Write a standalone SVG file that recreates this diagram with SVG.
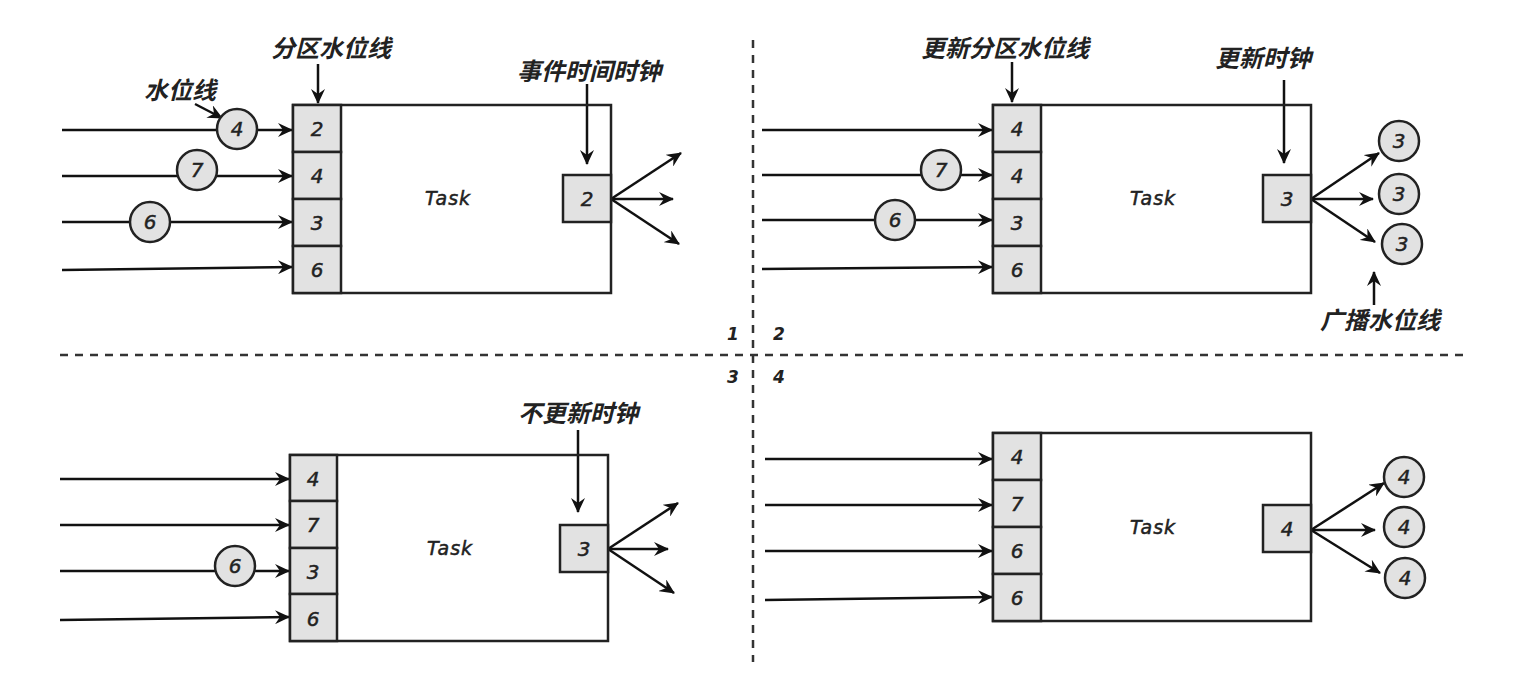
<svg xmlns="http://www.w3.org/2000/svg" width="1534" height="682" viewBox="0 0 1534 682">
<defs>
<marker id="ah" markerWidth="16" markerHeight="14" refX="14" refY="7" orient="auto" markerUnits="userSpaceOnUse">
<path d="M0,0 L15,7 L0,14 L5,7 z" fill="#111"/>
</marker>
<style>
.box{fill:none;stroke:#222;stroke-width:2.5}
.cell{fill:#e2e2e2;stroke:#222;stroke-width:2.5}
.ln{stroke:#111;stroke-width:2.5;fill:none;marker-end:url(#ah)}
.dash{stroke:#333;stroke-width:2.5;stroke-dasharray:8,7;fill:none}
.num{font-family:"DejaVu Sans",sans-serif;font-style:italic;font-size:20px;fill:#222;stroke:#222;stroke-width:0.5;text-anchor:middle;dominant-baseline:central}
.task{font-family:"DejaVu Sans",sans-serif;font-style:italic;font-size:19px;fill:#222;stroke:#222;stroke-width:0.5;letter-spacing:1px;text-anchor:middle;dominant-baseline:central}
.lbl{font-family:"Noto Sans CJK SC",sans-serif;font-style:italic;font-weight:bold;font-size:24px;fill:#222;text-anchor:middle;dominant-baseline:central}
.q{font-family:"DejaVu Sans",sans-serif;font-style:italic;font-weight:bold;font-size:17px;fill:#222;text-anchor:middle;dominant-baseline:central}
.circ{fill:#e2e2e2;stroke:#222;stroke-width:2.5}
</style>
</defs>

<g id="dividers">
<line class="dash" x1="753" y1="40" x2="753" y2="662"/>
<line class="dash" x1="60" y1="355" x2="1466" y2="355"/>
<text class="q" x="733" y="334">1</text>
<text class="q" x="779" y="334">2</text>
<text class="q" x="733" y="377">3</text>
<text class="q" x="779" y="377">4</text>
</g>

<g id="connectors">
<!-- panel 1 -->
<line class="ln" x1="62" y1="130" x2="292" y2="130"/>
<line class="ln" x1="62" y1="176" x2="292" y2="176"/>
<line class="ln" x1="62" y1="222" x2="292" y2="222"/>
<line class="ln" x1="62" y1="270" x2="292" y2="267"/>
<line class="ln" x1="195" y1="104" x2="222" y2="118"/>
<line class="ln" x1="318" y1="64" x2="318" y2="103"/>
<line class="ln" x1="587" y1="84" x2="587" y2="164"/>
<line class="ln" x1="611" y1="199" x2="681" y2="153"/>
<line class="ln" x1="611" y1="199" x2="673" y2="199"/>
<line class="ln" x1="611" y1="199" x2="679" y2="244"/>
<!-- panel 2 -->
<line class="ln" x1="762" y1="130" x2="992" y2="130"/>
<line class="ln" x1="762" y1="175" x2="992" y2="175"/>
<line class="ln" x1="762" y1="220" x2="992" y2="220"/>
<line class="ln" x1="762" y1="269" x2="992" y2="267"/>
<line class="ln" x1="1012" y1="62" x2="1012" y2="102"/>
<line class="ln" x1="1284" y1="80" x2="1284" y2="163"/>
<line class="ln" x1="1311" y1="199" x2="1379" y2="153"/>
<line class="ln" x1="1311" y1="199" x2="1373" y2="199"/>
<line class="ln" x1="1311" y1="199" x2="1375" y2="242"/>
<line class="ln" x1="1374" y1="305" x2="1374" y2="272"/>
<!-- panel 3 -->
<line class="ln" x1="60" y1="479" x2="289" y2="479"/>
<line class="ln" x1="60" y1="525" x2="289" y2="525"/>
<line class="ln" x1="60" y1="571" x2="289" y2="571"/>
<line class="ln" x1="60" y1="620" x2="289" y2="617"/>
<line class="ln" x1="578" y1="430" x2="578" y2="512"/>
<line class="ln" x1="608" y1="549" x2="678" y2="503"/>
<line class="ln" x1="608" y1="549" x2="668" y2="549"/>
<line class="ln" x1="608" y1="549" x2="674" y2="593"/>
<!-- panel 4 -->
<line class="ln" x1="765" y1="459" x2="992" y2="459"/>
<line class="ln" x1="765" y1="505" x2="992" y2="505"/>
<line class="ln" x1="765" y1="551" x2="992" y2="551"/>
<line class="ln" x1="765" y1="600" x2="992" y2="597"/>
<line class="ln" x1="1311" y1="530" x2="1384" y2="483"/>
<line class="ln" x1="1311" y1="530" x2="1375" y2="530"/>
<line class="ln" x1="1311" y1="530" x2="1380" y2="573"/>
</g>

<g id="panel1">
<rect class="box" x="293" y="105" width="318" height="188"/>
<rect class="cell" x="293" y="105" width="48" height="47"/>
<rect class="cell" x="293" y="152" width="48" height="47"/>
<rect class="cell" x="293" y="199" width="48" height="47"/>
<rect class="cell" x="293" y="246" width="48" height="47"/>
<text class="num" x="317" y="129">2</text>
<text class="num" x="317" y="176">4</text>
<text class="num" x="317" y="223">3</text>
<text class="num" x="317" y="270">6</text>
<text class="task" x="448" y="198">Task</text>
<rect class="cell" x="563" y="175" width="48" height="47"/>
<text class="num" x="587" y="199">2</text>
<circle class="circ" cx="237" cy="129" r="20"/>
<text class="num" x="237" y="129">4</text>
<circle class="circ" cx="197" cy="170" r="20"/>
<text class="num" x="197" y="170">7</text>
<circle class="circ" cx="150" cy="222" r="20"/>
<text class="num" x="150" y="222">6</text>
<text class="lbl" x="180" y="88">水位线</text>
<text class="lbl" x="331" y="46">分区水位线</text>
<text class="lbl" x="589" y="69">事件时间时钟</text>
</g>

<g id="panel2">
<rect class="box" x="993" y="105" width="318" height="188"/>
<rect class="cell" x="993" y="105" width="48" height="47"/>
<rect class="cell" x="993" y="152" width="48" height="47"/>
<rect class="cell" x="993" y="199" width="48" height="47"/>
<rect class="cell" x="993" y="246" width="48" height="47"/>
<text class="num" x="1017" y="129">4</text>
<text class="num" x="1017" y="176">4</text>
<text class="num" x="1017" y="223">3</text>
<text class="num" x="1017" y="270">6</text>
<text class="task" x="1153" y="198">Task</text>
<rect class="cell" x="1263" y="175" width="48" height="47"/>
<text class="num" x="1287" y="199">3</text>
<circle class="circ" cx="941" cy="170" r="20"/>
<text class="num" x="941" y="170">7</text>
<circle class="circ" cx="895" cy="220" r="20"/>
<text class="num" x="895" y="220">6</text>
<circle class="circ" cx="1399" cy="141" r="20"/>
<text class="num" x="1399" y="141">3</text>
<circle class="circ" cx="1399" cy="194" r="20"/>
<text class="num" x="1399" y="194">3</text>
<circle class="circ" cx="1402" cy="244" r="20"/>
<text class="num" x="1402" y="244">3</text>
<text class="lbl" x="1005" y="46">更新分区水位线</text>
<text class="lbl" x="1263" y="56">更新时钟</text>
<text class="lbl" x="1380" y="318">广播水位线</text>
</g>

<g id="panel3">
<rect class="box" x="290" y="455" width="318" height="186"/>
<rect class="cell" x="290" y="455" width="47" height="46"/>
<rect class="cell" x="290" y="501" width="47" height="47"/>
<rect class="cell" x="290" y="548" width="47" height="46"/>
<rect class="cell" x="290" y="594" width="47" height="47"/>
<text class="num" x="313" y="479">4</text>
<text class="num" x="313" y="525">7</text>
<text class="num" x="313" y="572">3</text>
<text class="num" x="313" y="619">6</text>
<text class="task" x="450" y="548">Task</text>
<rect class="cell" x="560" y="525" width="48" height="47"/>
<text class="num" x="584" y="549">3</text>
<circle class="circ" cx="235" cy="566" r="20"/>
<text class="num" x="235" y="566">6</text>
<text class="lbl" x="578" y="411">不更新时钟</text>
</g>

<g id="panel4">
<rect class="box" x="993" y="433" width="318" height="188"/>
<rect class="cell" x="993" y="433" width="48" height="47"/>
<rect class="cell" x="993" y="480" width="48" height="47"/>
<rect class="cell" x="993" y="527" width="48" height="47"/>
<rect class="cell" x="993" y="574" width="48" height="47"/>
<text class="num" x="1017" y="457">4</text>
<text class="num" x="1017" y="504">7</text>
<text class="num" x="1017" y="551">6</text>
<text class="num" x="1017" y="598">6</text>
<text class="task" x="1153" y="527">Task</text>
<rect class="cell" x="1263" y="505" width="48" height="47"/>
<text class="num" x="1287" y="529">4</text>
<circle class="circ" cx="1404" cy="477" r="20"/>
<text class="num" x="1404" y="477">4</text>
<circle class="circ" cx="1404" cy="527" r="20"/>
<text class="num" x="1404" y="527">4</text>
<circle class="circ" cx="1405" cy="578" r="20"/>
<text class="num" x="1405" y="578">4</text>
</g>
</svg>
